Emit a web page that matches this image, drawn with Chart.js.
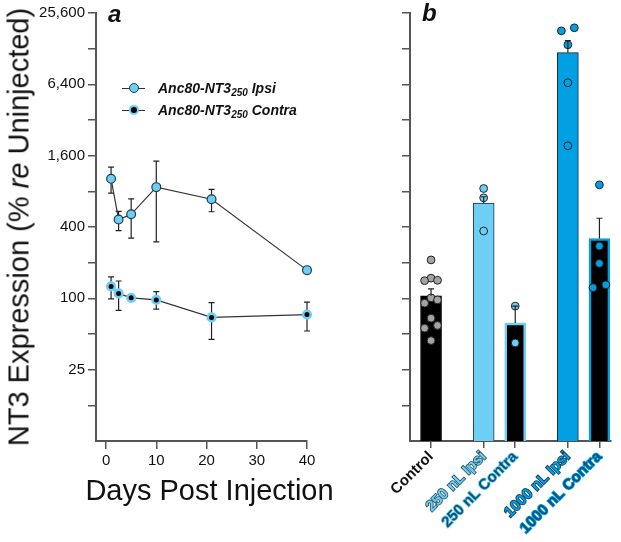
<!DOCTYPE html>
<html>
<head>
<meta charset="utf-8">
<script src="https://cdn.jsdelivr.net/npm/chart.js@4.4.1/dist/chart.umd.min.js"></script>
<style>
  html, body { margin: 0; padding: 0; background: #fff; }
  body { width: 621px; height: 542px; position: relative; overflow: hidden; font-family: 'Liberation Sans', Arial, sans-serif; color: #111; }
  #wrapA { position: absolute; left: 0; top: 0; width: 380px; height: 542px; }
  #wrapB { position: absolute; left: 380px; top: 0; width: 241px; height: 542px; }
  #yTitle { position: absolute; left: 19px; top: 227px; transform: translate(-50%, -50%) rotate(-90deg); font-size: 29px; line-height: 1; white-space: nowrap; }
  #xTitle { position: absolute; left: 209.5px; top: 476px; transform: translateX(-50%); font-size: 29px; line-height: 1; white-space: nowrap; }
  .panel { position: absolute; font-weight: bold; font-style: italic; font-size: 24px; line-height: 1; }
  #legend { position: absolute; left: 122px; top: 77px; font-weight: bold; font-style: italic; font-size: 14px; }
  .row { height: 22px; display: flex; align-items: center; white-space: nowrap; }
  .mk { position: relative; width: 23px; height: 12px; margin-right: 13px; }
  .mk .ln { position: absolute; left: 0; right: 0; top: 5.5px; height: 1px; background: #333; }
  .mk .dot { position: absolute; left: 50%; top: 50%; transform: translate(-50%, -50%); border-radius: 50%; box-sizing: border-box; }
  sub { font-size: 10px; vertical-align: -3px; line-height: 0; }
</style>
</head>
<body>
<div id="wrapA"><canvas id="chartA" width="380" height="542"></canvas></div>
<div id="wrapB"><canvas id="chartB" width="241" height="542"></canvas></div>
<div id="yTitle">NT3 Expression (% <i>re</i> Uninjected)</div>
<div id="xTitle">Days Post Injection</div>
<div class="panel" style="left:108px; top:2px;">a</div>
<div class="panel" style="left:422px; top:1px;">b</div>
<div id="legend"></div>
<script>
// ---- panel a : time course ----
const days = [1, 2.5, 5, 10, 21, 40];
const ipsiMean = [1020, 462, 512, 868, 686, 173];
const ipsiHigh = [1280, 542, 690, 1440, 832, 180];
const ipsiLow = [772, 373, 322, 299, 538, 166];
const contraMean = [126, 110, 101, 97, 69, 73];
const contraHigh = [152, 140, 106, 114, 92, 93];
const contraLow = [99, 79, 96, 81, 45, 53];
const seriesNames = ['Anc80-NT3<sub>250</sub> Ipsi', 'Anc80-NT3<sub>250</sub> Contra'];
const dayTicks = [0, 10, 20, 30, 40];

// shared log axis
const yTickValues = [25600, 12800, 6400, 3200, 1600, 800, 400, 200, 100, 50, 25, 12.5];
const yLabelValues = [25600, 6400, 1600, 400, 100, 25];

// ---- panel b : dose groups ----
const groups = ['Control', '250 nL Ipsi', '250 nL Contra', '1000 nL Ipsi', '1000 nL Contra'];
const groupOf = [0, 1, 1, 2, 2];
const barMeans = [105, 636, 62, 11850, 320];
const barHigh = [120, 720, 86, 15000, 474];
const ctrlDots = [211, 148, 141, 142, 101, 97, 91, 68, 59, 56, 44];
const ipsi250Dots = [845, 705, 370];
const contra250Dots = [86, 42];
const ipsi1000Dots = [18100, 19200, 13800, 6600, 1940];
const contra1000Dots = [908, 276, 197, 123, 130];

// layout bits (not data)
const dotSide = [
  [0, 0, -1, 1, 0, 1, -1, 0, 1, -1, 0],
  [0, 0, 0],
  [0, 0],
  [-1, 1, 0, 0, 0],
  [0, 0, 0, -1, 1]
];
const GROUP_STEP = 1.0, BAR_STEP = 0.6, DOT_SPREAD = 0.123;

const LIGHT = '#6dcff6';
const MID = '#00a0e3';
const AXIS = '#555';

Chart.defaults.font.family = "'Liberation Sans', Arial, sans-serif";

// x position of each category on the linear axis
const catPos = [];
let pos = 0;
groupOf.forEach(function (g, i) {
  if (i > 0) pos += (g !== groupOf[i - 1]) ? GROUP_STEP : BAR_STEP;
  catPos.push(pos);
});

function logAxis(showLabels, width) {
  return {
    type: 'logarithmic',
    min: 6.25,
    max: 25600,
    afterBuildTicks: function (s) { s.ticks = yTickValues.map(v => ({ value: v })); },
    afterFit: function (s) { s.width = width; },
    ticks: {
      font: { size: 15 },
      color: '#111',
      padding: 3,
      autoSkip: false,
      callback: function (v) {
        if (!showLabels) return '';
        return yLabelValues.includes(v) ? v.toLocaleString('en-US') : '';
      }
    },
    grid: { drawOnChartArea: false, tickLength: 8, color: AXIS, lineWidth: 1.5 },
    border: { color: AXIS, width: 2 }
  };
}

// error bars drawn from the chart's own scales
function errorBars(id, when, getBars) {
  const plugin = { id: id };
  plugin[when] = function (chart) {
    const ctx = chart.ctx;
    const xs = chart.scales.x, ys = chart.scales.y;
    ctx.save();
    ctx.strokeStyle = '#222';
    ctx.lineWidth = 1.2;
    getBars().forEach(function (b) {
      const x = xs.getPixelForValue(b.x);
      const yTop = ys.getPixelForValue(b.hi);
      const yBot = ys.getPixelForValue(b.lo);
      ctx.beginPath();
      ctx.moveTo(x, yBot); ctx.lineTo(x, yTop);
      ctx.moveTo(x - 3, yTop); ctx.lineTo(x + 3, yTop);
      if (b.cap2) { ctx.moveTo(x - 3, yBot); ctx.lineTo(x + 3, yBot); }
      ctx.stroke();
    });
    ctx.restore();
  };
  return plugin;
}

const datasetsA = [{
  label: 'Anc80-NT3250 Ipsi',
  data: days.map((d, i) => ({ x: d, y: ipsiMean[i] })),
  borderColor: '#333',
  borderWidth: 1.2,
  pointBackgroundColor: LIGHT,
  pointBorderColor: '#1d3d4e',
  pointBorderWidth: 1.2,
  pointRadius: 4.4,
  clip: false
}, {
  label: 'Anc80-NT3250 Contra',
  data: days.map((d, i) => ({ x: d, y: contraMean[i] })),
  borderColor: '#333',
  borderWidth: 1.2,
  pointBackgroundColor: '#000',
  pointBorderColor: LIGHT,
  pointBorderWidth: 2.6,
  pointRadius: 3.8,
  clip: false
}];

new Chart(document.getElementById('chartA'), {
  type: 'line',
  data: { datasets: datasetsA },
  options: {
    responsive: false,
    animation: false,
    layout: { padding: { top: 13, right: 73, left: 0, bottom: 0 } },
    plugins: { legend: { display: false }, tooltip: { enabled: false } },
    scales: {
      x: {
        type: 'linear',
        min: -2,
        max: 40,
        afterBuildTicks: function (s) { s.ticks = dayTicks.map(v => ({ value: v })); },
        afterFit: function (s) { s.height = 101; },
        ticks: { font: { size: 15 }, color: '#111', padding: 3, autoSkip: false },
        grid: { drawOnChartArea: false, tickLength: 8, color: AXIS, lineWidth: 1.5 },
        border: { color: AXIS, width: 2 }
      },
      y: logAxis(true, 96)
    }
  },
  plugins: [errorBars('errA', 'beforeDatasetsDraw', function () {
    const out = [];
    days.forEach(function (d, i) {
      out.push({ x: d, lo: ipsiLow[i], hi: ipsiHigh[i], cap2: true });
      out.push({ x: d, lo: contraLow[i], hi: contraHigh[i], cap2: true });
    });
    return out;
  })]
});

// legend for panel a
const legend = document.getElementById('legend');
datasetsA.forEach(function (ds, i) {
  const row = document.createElement('div');
  row.className = 'row';
  const size = (ds.pointRadius + ds.pointBorderWidth / 2) * 2;
  row.innerHTML = '<span class="mk"><span class="ln"></span><span class="dot" style="width:' + size + 'px;height:' + size +
    'px;background:' + ds.pointBackgroundColor + ';border:' + ds.pointBorderWidth + 'px solid ' + ds.pointBorderColor +
    '"></span></span><span>' + seriesNames[i] + '</span>';
  legend.appendChild(row);
});

// ---- panel b ----
const barFill = ['#000', LIGHT, '#000', MID, '#000'];
const barEdge = ['#000', '#1d2d36', LIGHT, '#0d2c3c', MID];
const barEdgeW = [1, 1, 2.6, 1, 2.6];
const dotFill = ['#a3a3a3', LIGHT, LIGHT, MID, MID];
const allDots = [ctrlDots, ipsi250Dots, contra250Dots, ipsi1000Dots, contra1000Dots];
const labelFill = ['#111', LIGHT, '#0f5474', MID, '#0a5580'];
const labelStroke = ['', '#254d61', LIGHT, '#0b3550', MID];
const labelStrokeW = [0, 1.6, 1.6, 1.6, 1.6];

const datasetsB = [{
  type: 'bar',
  data: catPos.map((x, i) => ({ x: x, y: barMeans[i] })),
  backgroundColor: barFill,
  borderColor: barEdge,
  borderWidth: barEdgeW,
  barThickness: 21,
  order: 2,
  clip: false
}];
allDots.forEach(function (vals, i) {
  datasetsB.push({
    type: 'scatter',
    data: vals.map((v, k) => ({ x: catPos[i] + dotSide[i][k] * DOT_SPREAD, y: v })),
    backgroundColor: dotFill[i],
    borderColor: '#222',
    borderWidth: 1,
    pointRadius: 3.9,
    order: 1,
    clip: false
  });
});

new Chart(document.getElementById('chartB'), {
  type: 'bar',
  data: { datasets: datasetsB },
  options: {
    responsive: false,
    animation: false,
    layout: { padding: { top: 13, right: 10, left: 0, bottom: 0 } },
    plugins: { legend: { display: false }, tooltip: { enabled: false } },
    scales: {
      x: {
        type: 'linear',
        min: -0.4,
        max: 3.42,
        offset: false,
        afterBuildTicks: function (s) { s.ticks = catPos.map(v => ({ value: v })); },
        afterFit: function (s) { s.height = 101; },
        ticks: {
          autoSkip: false,
          minRotation: 45,
          maxRotation: 45,
          padding: 0,
          font: { size: 15, weight: 'bold' },
          color: c => labelFill[c.index],
          textStrokeColor: c => labelStroke[c.index],
          textStrokeWidth: c => labelStrokeW[c.index],
          callback: function (v, i) { return groups[i]; }
        },
        grid: { drawOnChartArea: false, offset: false, tickLength: 7, color: AXIS, lineWidth: 1.5 },
        border: { color: AXIS, width: 2 }
      },
      y: logAxis(false, 30)
    }
  },
  plugins: [errorBars('errB', 'afterDatasetsDraw', function () {
    return catPos.map((x, i) => ({ x: x, lo: barMeans[i], hi: barHigh[i], cap2: false }));
  })]
});
</script>
</body>
</html>
